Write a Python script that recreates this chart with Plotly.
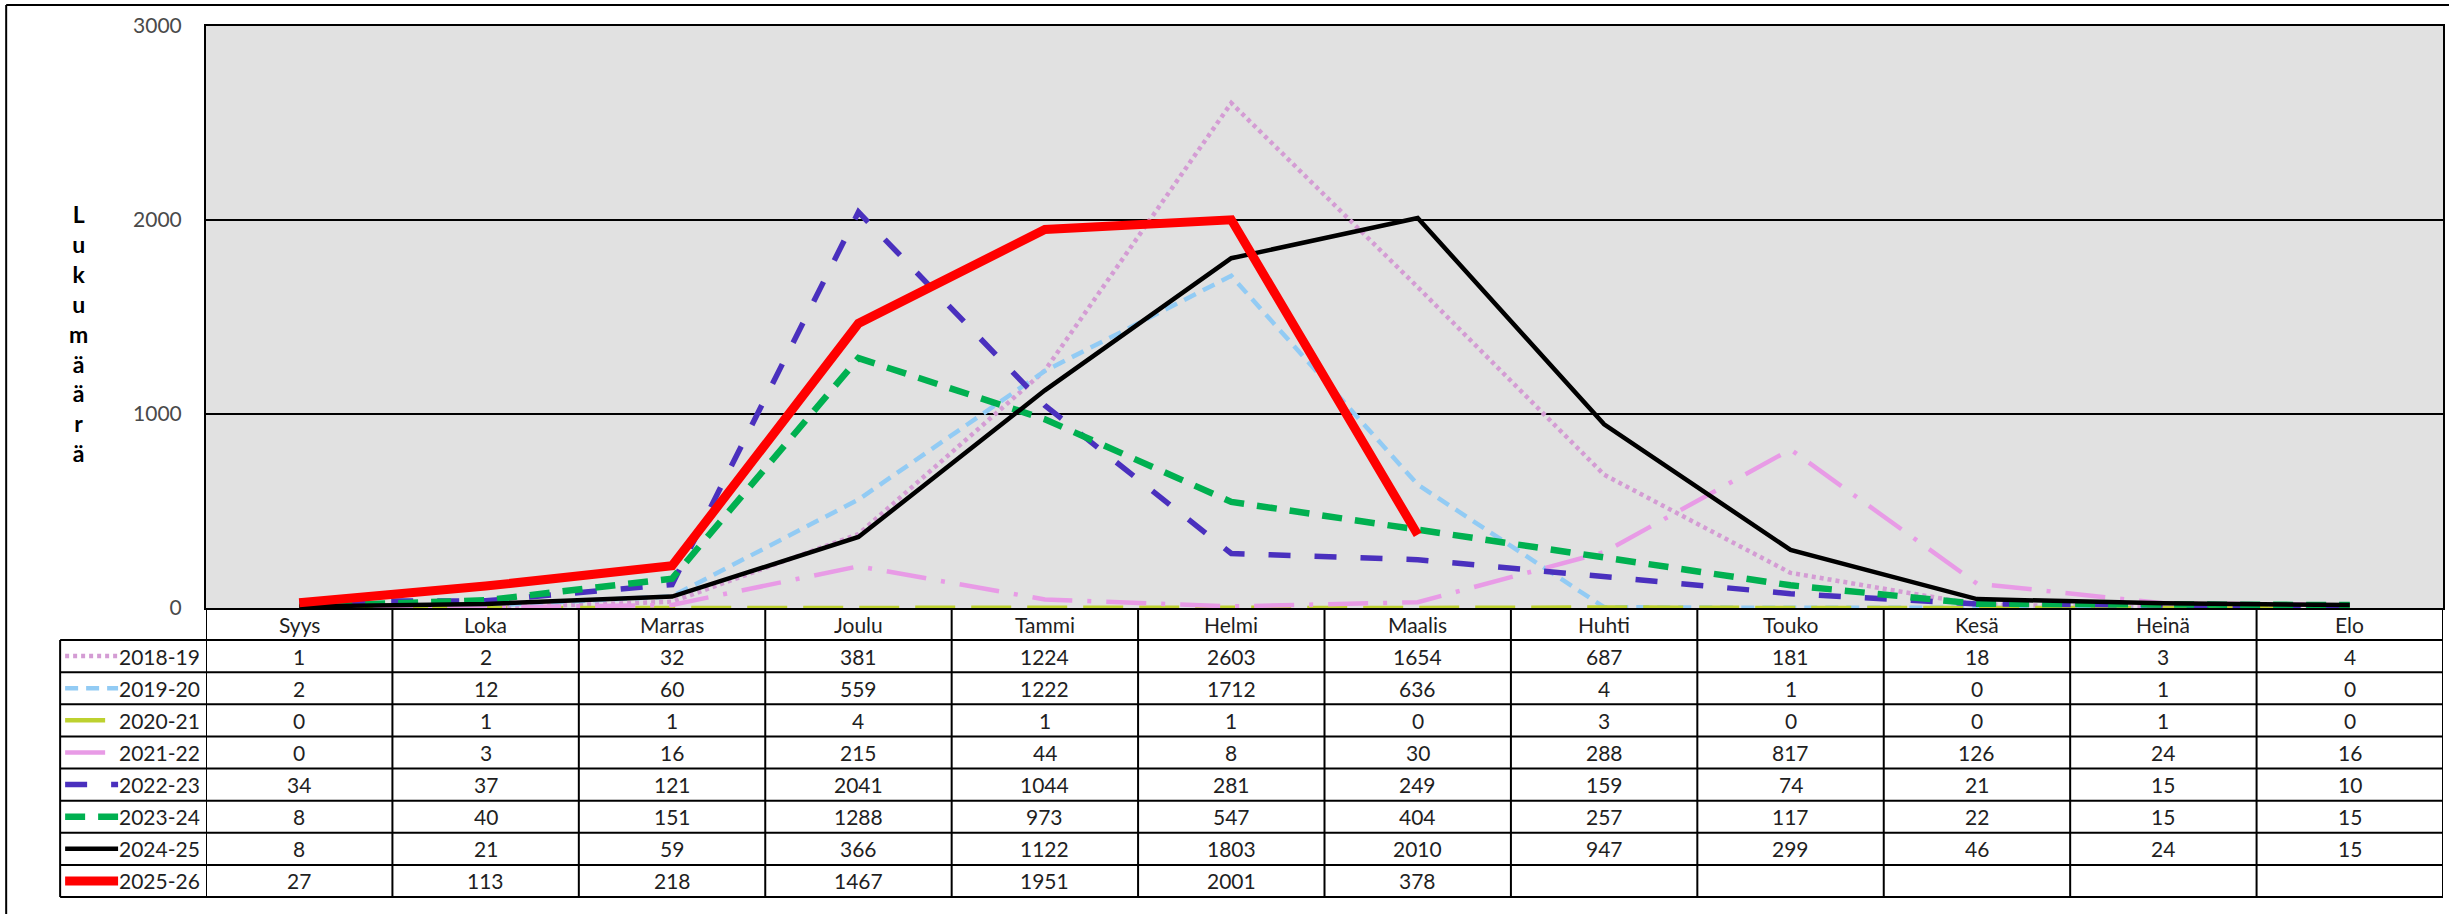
import plotly.graph_objects as go

# ---------------- data ----------------
months = ["Syys", "Loka", "Marras", "Joulu", "Tammi", "Helmi", "Maalis",
          "Huhti", "Touko", "Kesä", "Heinä", "Elo"]

s_2018_19 = [1, 2, 32, 381, 1224, 2603, 1654, 687, 181, 18, 3, 4]
s_2019_20 = [2, 12, 60, 559, 1222, 1712, 636, 4, 1, 0, 1, 0]
s_2020_21 = [0, 1, 1, 4, 1, 1, 0, 3, 0, 0, 1, 0]
s_2021_22 = [0, 3, 16, 215, 44, 8, 30, 288, 817, 126, 24, 16]
s_2022_23 = [34, 37, 121, 2041, 1044, 281, 249, 159, 74, 21, 15, 10]
s_2023_24 = [8, 40, 151, 1288, 973, 547, 404, 257, 117, 22, 15, 15]
s_2024_25 = [8, 21, 59, 366, 1122, 1803, 2010, 947, 299, 46, 24, 15]
s_2025_26 = [27, 113, 218, 1467, 1951, 2001, 378, None, None, None, None, None]

season_names = ["2018-19", "2019-20", "2020-21", "2021-22",
                "2022-23", "2023-24", "2024-25", "2025-26"]
season_values = [s_2018_19, s_2019_20, s_2020_21, s_2021_22,
                 s_2022_23, s_2023_24, s_2024_25, s_2025_26]

y_ticks = [0, 1000, 2000, 3000]
y_title = "Lukumäärä"

# ---------------- styles ----------------
styles = [
    dict(color="#D49CD4", width=4.5, dash="4px,4px"),
    dict(color="#92CBF4", width=4.5, dash="13px,8px"),
    dict(color="#BDD12F", width=4.5, dash="40px,16px"),
    dict(color="#E89BE6", width=4.5, dash="40px,15px,4px,15px"),
    dict(color="#4A30BE", width=5.5, dash="22px,24px"),
    dict(color="#00B050", width=6.5, dash="20px,13px"),
    dict(color="#000000", width=4.5, dash="solid"),
    dict(color="#FF0000", width=9, dash="solid"),
]

FONT = "Lato, 'Noto Sans', 'DejaVu Sans', sans-serif"
W, H = 2451, 914
L, R, T, B = 206, 2445, 26, 608


def pxx(x):
    return (x - L) / (R - L)


def pyy(y):
    return (B - y) / (B - T)


fig = go.Figure()
for name, vals, st in zip(season_names, season_values, styles):
    fig.add_trace(go.Scatter(
        x=months, y=vals, mode="lines", name=name,
        line=dict(color=st["color"], width=st["width"], dash=st["dash"]),
        connectgaps=False, showlegend=False))

shapes = []
annotations = []

# outer frame (top & left)
shapes.append(dict(type="line", xref="paper", yref="paper",
                   x0=pxx(6), x1=pxx(W), y0=pyy(5), y1=pyy(5),
                   line=dict(color="black", width=2)))
shapes.append(dict(type="line", xref="paper", yref="paper",
                   x0=pxx(6), x1=pxx(6), y0=pyy(5), y1=pyy(H),
                   line=dict(color="black", width=2)))

# table geometry
header_top, header_bot = 608, 640
row_h = (897 - 640) / 8
row_edges = [header_bot + row_h * k for k in range(9)]
legend_left = 60

for yv in row_edges:
    shapes.append(dict(type="line", xref="paper", yref="paper",
                       x0=pxx(legend_left), x1=pxx(R), y0=pyy(yv), y1=pyy(yv),
                       line=dict(color="black", width=2)))
for k in range(len(months) + 1):
    shapes.append(dict(type="line", xref="x", yref="paper",
                       x0=k - 0.5, x1=k - 0.5, y0=pyy(header_top), y1=pyy(row_edges[-1]),
                       line=dict(color="black", width=2)))
shapes.append(dict(type="line", xref="paper", yref="paper",
                   x0=pxx(legend_left), x1=pxx(legend_left),
                   y0=pyy(header_bot), y1=pyy(row_edges[-1]),
                   line=dict(color="black", width=2)))

txt_font = dict(family=FONT, size=21, color="#1F1F1F")

for m in months:
    annotations.append(dict(x=m, xref="x", y=pyy((header_top + header_bot) / 2),
                            yref="paper", text=m, showarrow=False,
                            font=txt_font, xanchor="center", yanchor="middle"))

for r, (name, vals, st) in enumerate(zip(season_names, season_values, styles)):
    yc = (row_edges[r] + row_edges[r + 1]) / 2
    shapes.append(dict(type="line", xref="paper", yref="paper",
                       x0=pxx(65), x1=pxx(118), y0=pyy(yc), y1=pyy(yc),
                       line=dict(color=st["color"], width=st["width"], dash=st["dash"])))
    annotations.append(dict(x=pxx(202), xref="paper", y=pyy(yc), yref="paper",
                            text=name, showarrow=False, font=txt_font,
                            xanchor="right", yanchor="middle"))
    for m, v in zip(months, vals):
        if v is None:
            continue
        annotations.append(dict(x=m, xref="x", y=pyy(yc), yref="paper",
                                text=str(v), showarrow=False, font=txt_font,
                                xanchor="center", yanchor="middle"))

annotations.append(dict(x=pxx(78), xref="paper", y=pyy(333), yref="paper",
                        text="<b>" + "<br>".join(list(y_title)) + "</b>",
                        showarrow=False, align="center",
                        font=dict(family=FONT, size=23, color="#000000"),
                        xanchor="center", yanchor="middle"))

fig.update_layout(
    width=W, height=H,
    margin=dict(l=L, r=W - R, t=T, b=H - B),
    paper_bgcolor="white", plot_bgcolor="#E1E1E1",
    shapes=shapes, annotations=annotations,
    font=dict(family=FONT),
    xaxis=dict(type="category", categoryorder="array", categoryarray=months,
               range=[-0.5, len(months) - 0.5], showticklabels=False,
               showgrid=False, zeroline=False, showline=True, mirror=True,
               linecolor="black", linewidth=2, ticks=""),
    yaxis=dict(range=[0, 3000], tickvals=y_ticks, showgrid=True,
               gridcolor="black", gridwidth=1.5, zeroline=False,
               showline=True, mirror=True, linecolor="black", linewidth=2,
               ticks="", ticklabelstandoff=18,
               tickfont=dict(family=FONT, size=21, color="#4A4A4A")),
)

fig.write_html("out.html",
               config={"displayModeBar": False},
               post_script="document.body.style.margin='0px';"
                           "document.body.style.overflow='hidden';")
